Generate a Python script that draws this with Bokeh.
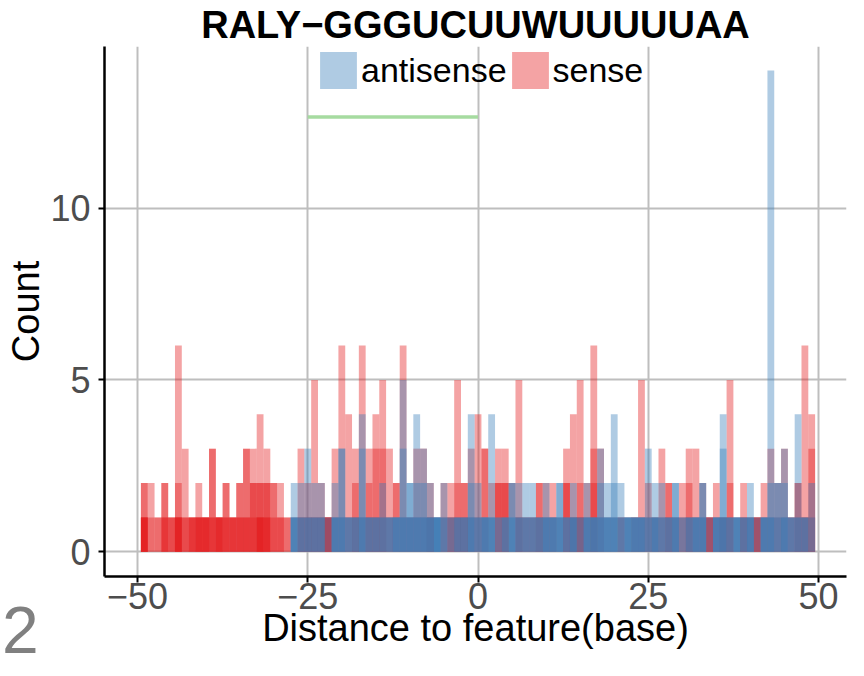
from bokeh.plotting import figure
from bokeh.layouts import column
from bokeh.models import Range1d, FixedTicker, Legend, LegendItem, Div
from bokeh.embed import file_html
from bokeh.resources import INLINE

# ---------------- data ----------------
bins = list(range(-49, 50))

# sense: tallest bar per bin, and number of overlapping bars reaching levels 1, 2, 3
sense_top = [2, 2, 1, 2, 1, 6, 3, 1, 2, 1,
             3, 1, 2, 1, 2, 3, 3, 4, 3, 2,
             2, 1, 1, 3, 2, 5, 2, 1, 3, 6,
             4, 3, 6, 3, 4, 5, 3, 2, 6, 1,
             3, 3, 2, 1, 2, 2, 5, 2, 3, 4,
             3, 2, 3, 3, 2, 5, 1, 1, 2, 2,
             2, 1, 3, 4, 5, 2, 6, 3, 1, 1,
             1, 1, 1, 5, 2, 1, 3, 2, 1, 2,
             3, 3, 2, 1, 2, 1, 5, 1, 2, 1,
             1, 2, 3, 2, 3, 1, 2, 6, 4]
sense_lvl1 = [6, 2, 2, 4, 3, 6, 3, 4, 5, 5,
              4, 5, 4, 4, 4, 4, 4, 6, 5, 3,
              3, 2, 1, 3, 3, 3, 3, 5, 2, 2,
              2, 3, 2, 3, 3, 3, 2, 2, 2, 2,
              2, 2, 3, 1, 2, 3, 3, 3, 2, 2,
              2, 1, 3, 3, 1, 3, 2, 2, 3, 2,
              2, 1, 3, 3, 4, 2, 3, 2, 1, 1,
              2, 1, 2, 2, 2, 2, 2, 3, 2, 2,
              3, 2, 2, 4, 2, 3, 3, 1, 3, 2,
              4, 2, 2, 2, 2, 2, 3, 3, 3]
sense_lvl2 = [2, 1, 0, 2, 0, 2, 1, 0, 1, 0,
              2, 0, 2, 0, 2, 2, 3, 3, 3, 2,
              1, 0, 0, 1, 1, 1, 1, 0, 1, 1,
              1, 2, 1, 2, 2, 2, 1, 2, 1, 0,
              1, 1, 1, 0, 1, 1, 2, 2, 1, 1,
              2, 1, 3, 3, 1, 1, 0, 0, 2, 1,
              1, 0, 3, 1, 2, 1, 3, 1, 0, 0,
              0, 0, 0, 1, 1, 0, 1, 2, 0, 1,
              2, 1, 1, 0, 1, 0, 2, 0, 1, 0,
              0, 1, 1, 1, 1, 0, 2, 1, 2]
sense_lvl3 = [0, 0, 0, 0, 0, 1, 1, 0, 0, 0,
              2, 0, 0, 0, 0, 2, 1, 1, 1, 0,
              0, 0, 0, 1, 0, 1, 0, 0, 1, 1,
              1, 1, 1, 1, 2, 2, 1, 0, 1, 0,
              1, 1, 0, 0, 0, 0, 1, 0, 1, 1,
              2, 0, 1, 1, 0, 1, 0, 0, 0, 0,
              0, 0, 1, 1, 1, 0, 2, 1, 0, 0,
              0, 0, 0, 1, 0, 0, 1, 0, 0, 0,
              1, 1, 0, 0, 0, 0, 1, 0, 0, 0,
              0, 0, 1, 0, 1, 0, 0, 1, 2]

# antisense
antisense_top = [0, 0, 0, 0, 0, 0, 0, 0, 0, 0,
                 0, 0, 0, 0, 0, 0, 0, 0, 0, 0,
                 0, 0, 2, 2, 3, 2, 2, 1, 2, 3,
                 1, 1, 4, 1, 1, 2, 1, 1, 5, 2,
                 4, 3, 2, 1, 2, 1, 1, 1, 4, 2,
                 1, 4, 1, 1, 2, 2, 2, 2, 1, 2,
                 1, 2, 1, 2, 1, 2, 1, 3, 2, 4,
                 2, 1, 1, 1, 3, 2, 2, 1, 2, 1,
                 1, 1, 2, 1, 1, 4, 1, 1, 1, 2,
                 1, 1, 14, 2, 3, 1, 4, 1, 2]
antisense_lvl1 = [0, 0, 0, 0, 0, 0, 0, 0, 0, 0,
                  0, 0, 0, 0, 0, 0, 0, 0, 0, 0,
                  0, 0, 4, 3, 3, 3, 3, 1, 4, 4,
                  3, 3, 4, 3, 3, 3, 3, 4, 4, 4,
                  4, 4, 4, 5, 3, 2, 3, 3, 4, 3,
                  4, 4, 2, 3, 4, 3, 3, 3, 3, 4,
                  4, 4, 3, 4, 2, 4, 4, 4, 4, 4,
                  3, 4, 4, 4, 3, 4, 3, 3, 4, 2,
                  3, 4, 4, 1, 4, 4, 3, 4, 3, 4,
                  1, 4, 4, 3, 4, 3, 3, 3, 2]
antisense_lvl2 = [0, 0, 0, 0, 0, 0, 0, 0, 0, 0,
                  0, 0, 0, 0, 0, 0, 0, 0, 0, 0,
                  0, 0, 1, 1, 1, 1, 1, 0, 1, 2,
                  0, 0, 2, 0, 0, 1, 0, 0, 2, 2,
                  2, 2, 1, 0, 1, 0, 0, 0, 2, 1,
                  0, 1, 0, 0, 2, 1, 1, 1, 0, 1,
                  0, 2, 0, 1, 0, 1, 0, 2, 1, 2,
                  1, 0, 0, 0, 1, 1, 1, 0, 2, 0,
                  0, 0, 2, 0, 0, 2, 0, 0, 0, 1,
                  0, 0, 2, 2, 2, 0, 1, 0, 1]
antisense_lvl3 = [0, 0, 0, 0, 0, 0, 0, 0, 0, 0,
                  0, 0, 0, 0, 0, 0, 0, 0, 0, 0,
                  0, 0, 0, 0, 1, 0, 0, 0, 0, 2,
                  0, 0, 2, 0, 0, 0, 0, 0, 2, 0,
                  1, 1, 0, 0, 0, 0, 0, 0, 1, 0,
                  0, 1, 0, 0, 0, 0, 0, 0, 0, 0,
                  0, 0, 0, 0, 0, 0, 0, 1, 0, 1,
                  0, 0, 0, 0, 1, 0, 0, 0, 0, 0,
                  0, 0, 0, 0, 0, 2, 0, 0, 0, 0,
                  0, 0, 1, 0, 1, 0, 1, 0, 0]

feature_span = [-25, 0]
feature_level = 12.65

x_ticks = [-50, -25, 0, 25, 50]
x_tick_labels = ["\u221250", "\u221225", "0", "25", "50"]
y_ticks = [0, 5, 10]

title_text = "RALY\u2212GGGUCUUWUUUUUAA"
x_title = "Distance to feature(base)"
y_title = "Count"
panel_tag = "2"

SENSE_COLOR = "#E41A1C"
ANTI_COLOR = "#377EB8"
FONT = "Liberation Sans"


def layer_heights(top, l1, l2, l3):
    depth = max(l1)
    layers = [list(top)]
    for j in range(2, depth + 1):
        layers.append([3 if c >= j else 2 if b >= j else 1 if a >= j else 0
                       for a, b, c in zip(l1, l2, l3)])
    return layers


p = figure(width=848, height=660, output_backend="svg", toolbar_location=None,
           x_range=Range1d(-54.85, 54.11), y_range=Range1d(-0.72, 14.7),
           min_border_left=104, min_border_right=2, min_border_top=46,
           min_border_bottom=84, title=title_text)
p.outline_line_color = None
p.background_fill_color = "white"

p.title.align = "center"
p.title.text_font = FONT
p.title.text_font_size = "38px"
p.title.text_font_style = "bold"
p.title.text_color = "black"
p.title.standoff = 2

sense_renderers = []
for h in layer_heights(sense_top, sense_lvl1, sense_lvl2, sense_lvl3):
    r = p.vbar(x=bins, top=h, bottom=0, width=1, fill_color=SENSE_COLOR,
               fill_alpha=0.4, line_color=None)
    sense_renderers.append(r)

anti_renderers = []
for h in layer_heights(antisense_top, antisense_lvl1, antisense_lvl2, antisense_lvl3):
    r = p.vbar(x=bins, top=h, bottom=0, width=1, fill_color=ANTI_COLOR,
               fill_alpha=0.4, line_color=None)
    anti_renderers.append(r)

p.line(x=feature_span, y=[feature_level] * len(feature_span),
       line_color="#A6DBA0", line_width=3.5)

# axes
p.xaxis.ticker = FixedTicker(ticks=x_ticks)
p.xaxis.major_label_overrides = {t: s for t, s in zip(x_ticks, x_tick_labels)}
p.yaxis.ticker = FixedTicker(ticks=y_ticks)
for ax in (p.xaxis, p.yaxis):
    ax.axis_line_color = "black"
    ax.axis_line_width = 2.5
    ax.major_tick_line_color = "black"
    ax.major_tick_line_width = 2
    ax.major_tick_out = 6
    ax.major_tick_in = 0
    ax.minor_tick_line_color = None
    ax.major_label_text_font = FONT
    ax.major_label_text_font_size = "36px"
    ax.major_label_text_color = "#4D4D4D"
    ax.axis_label_text_font = FONT
    ax.axis_label_text_font_size = "38px"
    ax.axis_label_text_font_style = "normal"
    ax.axis_label_text_color = "black"
p.yaxis.axis_label = y_title
p.xaxis.axis_label = x_title
p.yaxis.major_label_standoff = 8
p.yaxis.axis_label_standoff = 0
p.xaxis.major_label_standoff = 0
p.xaxis.axis_label_standoff = -5

p.grid.grid_line_color = "#BEBEBE"
p.grid.grid_line_width = 2

# legend (kept inside the plotting frame so nothing is clipped)
legend = Legend(items=[LegendItem(label="antisense", renderers=[anti_renderers[0]]),
                       LegendItem(label="sense", renderers=[sense_renderers[0]])],
                orientation="horizontal", location=(211, 483),
                padding=0, margin=0, spacing=-6, glyph_width=46, glyph_height=46,
                label_standoff=0, label_height=46,
                label_text_font=FONT, label_text_font_size="34px",
                label_text_color="black", border_line_color=None,
                background_fill_alpha=0)
p.add_layout(legend)

tag = Div(text=panel_tag, width=44, height=60, margin=(-60, 0, 0, 2),
          styles={"font-family": FONT, "font-size": "66px", "color": "#808080",
                  "line-height": "60px"})

open("out.html", "w").write(file_html(column(p, tag), INLINE))
